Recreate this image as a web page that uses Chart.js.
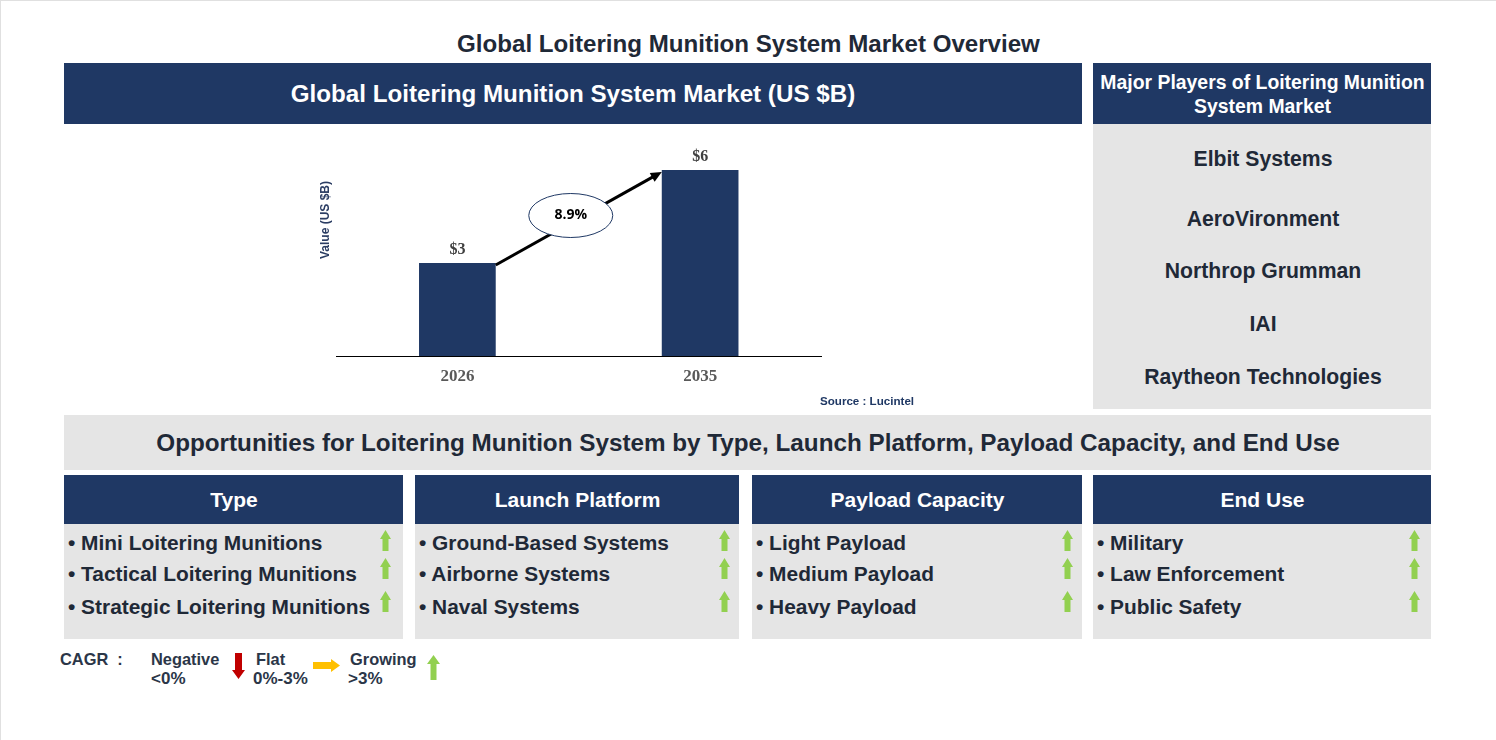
<!DOCTYPE html>
<html><head><meta charset="utf-8">
<script src="https://cdn.jsdelivr.net/npm/chart.js@4"></script>
<style>
html,body{margin:0;padding:0;background:#fff;overflow:hidden}
#page{position:relative;width:1496px;height:740px;font-family:"Liberation Sans",Arial,sans-serif;font-weight:bold;overflow:hidden}
#page div.a{position:absolute;white-space:nowrap}
.c{display:flex;align-items:center;justify-content:center;text-align:center}
.navy{background:#1F3864;color:#fff}
.grey{background:#E5E5E5}
svg{position:absolute}
#cv{position:absolute;left:300px;top:130px}
</style></head><body>
<div id="page"><canvas id="cv" width="630" height="285" style="width:630px;height:285px"></canvas></div>
<script>
const categories=["2026","2035"];
const seriesValues=[3,6];
const barLabels=["$3","$6"];
const cagrLabel="8.9%";
const axisTitle="Value (US $B)";
const players=[["Elbit Systems",159],["AeroVironment",219],["Northrop Grumman",271],["IAI",324],["Raytheon Technologies",377]];
const columns=[
 {t:"Type",x:64,w:339,ax:385,items:["Mini Loitering Munitions","Tactical Loitering Munitions","Strategic Loitering Munitions"]},
 {t:"Launch Platform",x:415,w:324,ax:724,items:["Ground-Based Systems","Airborne Systems","Naval Systems"]},
 {t:"Payload Capacity",x:752,w:330,ax:1067,items:["Light Payload","Medium Payload","Heavy Payload"]},
 {t:"End Use",x:1093,w:338,ax:1414,items:["Military","Law Enforcement","Public Safety"]}
];
const rowY=[544,575,608], arrowY=[540,568,601];
const page=document.getElementById('page');
const ink='#1f2937';
function box(x,y,w,h,cls,txt,fs,col,extra){
  const d=document.createElement('div');d.className='a '+(cls||'');
  d.style.cssText=`left:${x}px;top:${y}px;width:${w}px;height:${h}px;`+(fs?`font-size:${fs}px;`:'')+(col?`color:${col};`:'')+(extra||'');
  if(txt!=null)d.innerHTML=txt;page.appendChild(d);return d;
}
function arrow(cx,cy,dir,color,len,thick,head,headLen){
  const s=document.createElementNS('http://www.w3.org/2000/svg','svg');
  const W=dir==='right'?len:head,H=dir==='right'?head:len;
  s.setAttribute('width',W);s.setAttribute('height',H);
  s.style.left=(cx-W/2)+'px';s.style.top=(cy-H/2)+'px';
  const t=(head-thick)/2;let p;
  if(dir==='up')p=`${head/2},0 ${head},${headLen} ${head-t},${headLen} ${head-t},${len} ${t},${len} ${t},${headLen} 0,${headLen}`;
  if(dir==='down')p=`${t},0 ${head-t},0 ${head-t},${len-headLen} ${head},${len-headLen} ${head/2},${len} 0,${len-headLen} ${t},${len-headLen}`;
  if(dir==='right')p=`0,${t} ${len-headLen},${t} ${len-headLen},0 ${len},${head/2} ${len-headLen},${head} ${len-headLen},${head-t} 0,${head-t}`;
  s.innerHTML=`<polygon points="${p}" fill="${color}"/>`;page.appendChild(s);
}
box(0,0,1,740,'',null,0,0,'background:#E0E0E0');
box(0,0,1496,1,'',null,0,0,'background:#E0E0E0');
box(0,30,1497,28,'c','Global Loitering Munition System Market Overview',24.12,ink);
box(64,63,1018,61,'c navy','Global Loitering Munition System Market (US $B)',24.2);
box(1093,63,338,61,'c navy','<span style="white-space:normal;line-height:24px;display:block;padding-left:1px">Major Players of Loitering Munition<br>System Market</span>',19.4);
box(1093,124,338,285,'grey');
players.forEach(p=>box(1094,p[1]-14,338,28,'c',p[0],21.2,ink));
box(820,394,100,14,'',"Source : Lucintel",11.6,'#1F3864','line-height:14px');
box(64,415,1369,55,'c grey','Opportunities for Loitering Munition System by Type, Launch Platform, Payload Capacity, and End Use',24.25,ink,'width:1367px;padding-left:1px;box-sizing:border-box');
columns.forEach(c=>{
  box(c.x,475,c.w,49,'c navy',c.t,21,null,'padding:1px 0 0 1px;box-sizing:border-box');
  box(c.x,524,c.w,115,'grey');
  c.items.forEach((it,i)=>{
    box(c.x+4,rowY[i]-14,c.w-10,26,'', '• '+it,20.9,ink,'line-height:26px');
    arrow(c.ax,arrowY[i],'up','#92D050',21,6,11,9);
  });
});
const lc='#2b3648';
const fs=16.4, fs2=17;
box(60,649,70,20,'','CAGR&nbsp; :',fs,lc,'line-height:20px');
box(151,649,80,20,'','Negative',fs,lc,'line-height:20px');
box(151,669,60,20,'','&lt;0%',fs2,lc,'line-height:20px');
arrow(238.5,666,'down','#C00000',26,7,13,9);
box(256,649,40,20,'','Flat',fs,lc,'line-height:20px');
box(253,669,60,20,'','0%-3%',fs2,lc,'line-height:20px');
arrow(326.5,665.5,'right','#FFC000',27,7,13,9);
box(350,649,80,20,'','Growing',fs,lc,'line-height:20px');
box(348,669,60,20,'','&gt;3%',fs2,lc,'line-height:20px');
arrow(433,667.5,'up','#92D050',25,6,13,9);

const overlay={id:'overlay',afterDatasetsDraw(ch){
  const c=ch.ctx,m=ch.getDatasetMeta(0).data;
  c.save();
  c.font='bold 16px "Liberation Serif"';c.fillStyle='#404040';c.textAlign='center';c.textBaseline='bottom';
  m.forEach((b,i)=>c.fillText(barLabels[i],b.x,b.y-5));
  const x0=m[0].x+m[0].width/2,y0=m[0].y+2,x1=m[1].x-m[1].width/2,y1=m[1].y+2;
  const ang=Math.atan2(y1-y0,x1-x0);
  c.strokeStyle='#000';c.fillStyle='#000';c.lineWidth=3;
  c.beginPath();c.moveTo(x0,y0);c.lineTo(x1-6*Math.cos(ang),y1-6*Math.sin(ang));c.stroke();
  c.beginPath();c.moveTo(x1,y1);
  c.lineTo(x1-11*Math.cos(ang)+5*Math.sin(ang),y1-11*Math.sin(ang)-5*Math.cos(ang));
  c.lineTo(x1-11*Math.cos(ang)-5*Math.sin(ang),y1-11*Math.sin(ang)+5*Math.cos(ang));
  c.closePath();c.fill();
  const ex=(x0+x1)/2-8,ey=(y0+y1)/2-3;
  c.beginPath();c.ellipse(ex,ey,42,22,0,0,Math.PI*2);c.fillStyle='#fff';c.fill();
  c.strokeStyle='#1F3864';c.lineWidth=1;c.stroke();
  c.font='bold 14px "Open Sans"';c.fillStyle='#000';c.textBaseline='middle';c.fillText(cagrLabel,ex,ey);
  c.restore();
}};
new Chart(document.getElementById('cv'),{
  type:'bar',
  data:{labels:categories,datasets:[{data:seriesValues,backgroundColor:'#1F3864',barPercentage:1,categoryPercentage:0.316}]},
  plugins:[overlay],
  options:{
    responsive:false,animation:false,devicePixelRatio:1,
    layout:{padding:{left:36,right:108.5,top:9,bottom:28}},
    plugins:{legend:{display:false},tooltip:{enabled:false}},
    scales:{
      x:{grid:{display:false,drawTicks:false},border:{color:'#000',width:1},afterFit(s){s.height=31},
         ticks:{padding:10,color:'#595959',font:{family:'"Liberation Serif"',size:17,weight:'bold'}}},
      y:{min:0,max:7,display:true,afterFit(s){s.width=0},grid:{display:false},border:{display:false},ticks:{display:false},title:{display:false}}
    }
  }
});
box(325,220,0,0,'c',axisTitle,12,'#2b3d63','transform:rotate(-90deg);');
</script></body></html>
